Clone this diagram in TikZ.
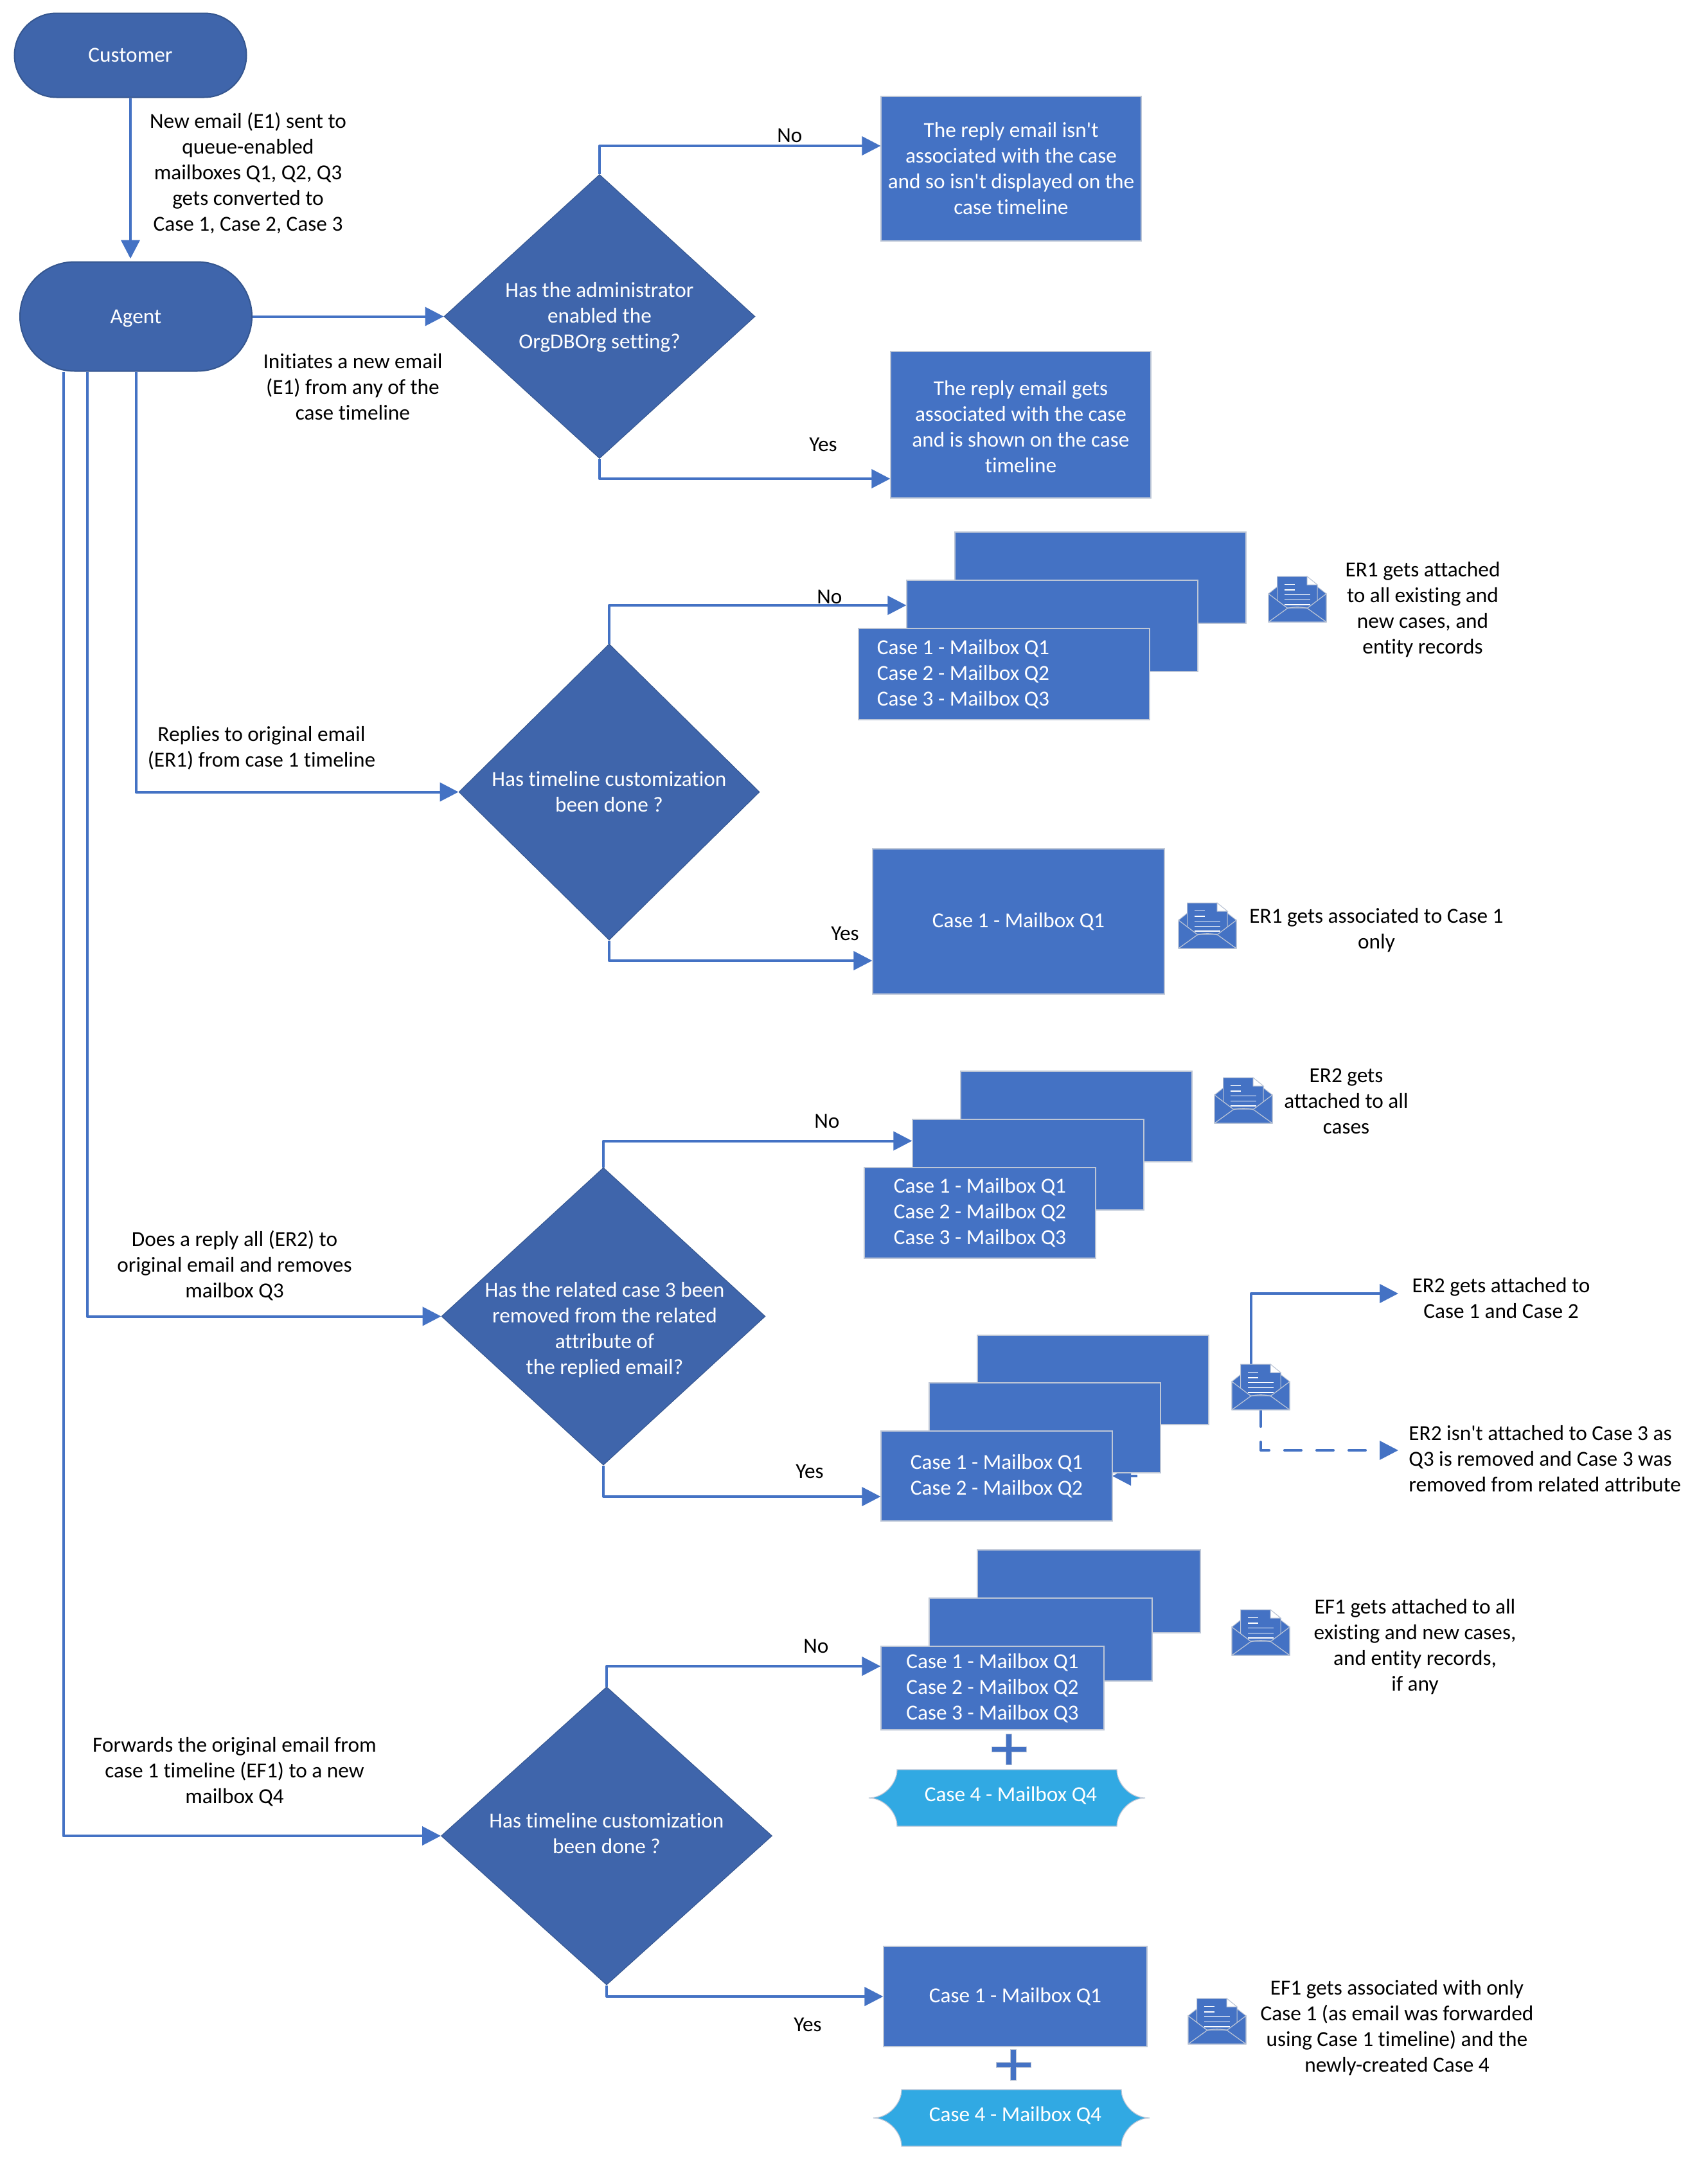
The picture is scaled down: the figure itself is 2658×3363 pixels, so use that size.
\documentclass[tikz,border=0pt]{standalone}
\usepackage{fontspec}
\setmainfont{Carlito}[Ligatures={TeXOff,NoCommon}]
\usetikzlibrary{shapes.geometric,shapes.misc,arrows.meta}
\definecolor{flowblue}{HTML}{4472C4}
\definecolor{darkblue}{HTML}{3F65AB}
\definecolor{darkedge}{HTML}{35568F}
\definecolor{paleedge}{HTML}{BDC6D6}
\definecolor{skyblue}{HTML}{31A9E3}
\tikzset{
  every node/.style={font=\fontsize{16.65}{20}\selectfont},
  terminal/.style={rounded rectangle,fill=darkblue,draw=darkedge,line width=1pt,text=white,inner sep=0pt},
  decision/.style={diamond,fill=darkblue,draw=darkedge,line width=.5pt,text=white,align=center,inner sep=0pt},
  casebox/.style={rectangle,fill=flowblue,draw=paleedge,line width=.6pt,text=white,align=center,inner sep=0pt},
  lbl/.style={align=center,inner sep=0pt,text=black,yshift=-.7pt},
  wlbl/.style={align=center,inner sep=0pt,text=white},
  conn/.style={draw=flowblue,line width=2pt,line join=round,-{Triangle[length=14.5pt,width=14.5pt]}},
  dashconn/.style={conn,line cap=round,dash pattern=on 13pt off 12pt},
  mailicon/.pic={
    \path[fill=flowblue,draw=paleedge,line width=.5pt] (0,27)--(13.7,16)--(76,16)--(90,27)--(90,71)--(0,71)--cycle;
    \path[fill=flowblue,draw=paleedge,line width=.5pt] (13.7,0)--(60,0)--(76,13)--(76,52)--(13.7,52)--cycle;
    \path[fill=white,draw=paleedge,line width=.5pt] (60,0)--(76,13)--(60,13)--cycle;
    \foreach \ya/\xb in {12.7/41,21/41,28.7/64.5,36.5/64.5,44/64.5}{
      \draw[white,line width=.6pt] (25,\ya)--(\xb,\ya);
    }
    \path[fill=flowblue,draw=paleedge,line width=.6pt] (0,27)--(29,49)--(61,49)--(90,27)--(90,71)--(0,71)--cycle;
    \draw[paleedge,line width=.6pt] (0,71)--(29,50) .. controls (38,47) and (52,47) .. (61,50)--(90,71);
  }
}
\newcommand{\shiftText}[2]{\raisebox{#1}[\height][\depth]{\begin{tabular}{@{}c@{}}#2\end{tabular}}}
\newcommand{\caseBox}[6]{%
  \pgfmathsetmacro{\boxw}{(#4-#2)*.5}%
  \pgfmathsetmacro{\boxh}{(#5-#3)*.5}%
  \node[casebox,minimum width=\boxw pt,minimum height=\boxh pt] (#1) at ({(#2+#4)/2},{(#3+#5)/2}) {#6};}
\newcommand{\blobShape}[4]{%
  \path[fill=skyblue,draw=paleedge,line width=.6pt,shift={(#2,#3)}]
    (-171,-44) -- (171,-44) .. controls (171,-22) and (192,0) .. (215,0)
    .. controls (192,0) and (171,22) .. (171,44) -- (-171,44)
    .. controls (-171,22) and (-192,0) .. (-215,0)
    .. controls (-192,0) and (-171,-22) .. (-171,-44) -- cycle;
  \node[wlbl] (#1) at (#2+6,#3-4) {#4};}
\newcommand{\plusSign}[2]{%
  \path[fill=flowblue,draw=paleedge,line width=.3pt,shift={(#1,#2)}]
    (-4.5,-24)--(4.5,-24)--(4.5,-4)--(27,-4)--(27,4)--(4.5,4)--(4.5,24)--(-4.5,24)--(-4.5,4)--(-27,4)--(-27,-4)--(-4.5,-4)--cycle;}
\begin{document}
\begin{tikzpicture}[x=.5pt,y=-.5pt]
\useasboundingbox (0,0) rectangle (2658,3363);
\fill[white] (0,0) rectangle (2658,3363);

% terminals
\node[terminal,minimum width=180.5pt,minimum height=65.5pt] (customer) at (203,86) {Customer};
\node[terminal,minimum width=180.5pt,minimum height=85pt,text height=10.5pt,text depth=0pt] (agent) at (211.5,492.5) {Agent};

% decisions
\node[decision,minimum width=242pt,minimum height=221pt] (d1) at (933,492.5) {\shiftText{-1pt}{Has the administrator\\enabled the\\OrgDBOrg setting?}};
\node[decision,minimum width=234pt,minimum height=230.5pt] (d2) at (948,1232.5) {Has timeline customization\\been done ?};
\node[decision,minimum width=252pt,minimum height=231.5pt] (d3) at (939,2048.5) {};
\node[wlbl] (d3text) at (941,2070) {Has the related case 3 been\\removed from the related\\attribute of\\the replied email?};
\node[decision,minimum width=257.5pt,minimum height=232pt] (d4) at (944,2857) {\shiftText{.5pt}{Has timeline customization\\been done ?}};

% boxes
\caseBox{b1}{1371}{150}{1776}{375}{The reply email isn't\\associated with the case\\and so isn't displayed on the\\case timeline}
\caseBox{b2}{1386}{547}{1791}{775}{\shiftText{-3.2pt}{The reply email gets\\associated with the case\\and is shown on the case\\timeline}}

\caseBox{s1c}{1486}{828}{1939}{970}{}
\caseBox{s1b}{1411}{903}{1864}{1045}{}
\caseBox{s1a}{1336}{978}{1789}{1120}{}
\node[wlbl] (s1t) at (1499,1049) {Case 1 - Mailbox Q1\\Case 2 - Mailbox Q2\\Case 3 - Mailbox Q3};

\caseBox{b3}{1358}{1321}{1812}{1547}{Case 1 - Mailbox Q1}

\caseBox{s2c}{1495}{1667}{1855}{1808}{}
\caseBox{s2b}{1420}{1742}{1780}{1883}{}
\caseBox{s2a}{1345}{1817}{1705}{1958}{Case 1 - Mailbox Q1\\Case 2 - Mailbox Q2\\Case 3 - Mailbox Q3}

\caseBox{s3c}{1521}{2078}{1881}{2217}{}
\coordinate (stub) at (1770,2297);
\coordinate (stubtip) at (1731,2297);
\draw[conn] (stub) -- (stubtip);
\caseBox{s3b}{1446}{2152}{1806}{2292}{}
\caseBox{s3a}{1371}{2227}{1731}{2367}{Case 1 - Mailbox Q1\\Case 2 - Mailbox Q2}

\caseBox{s4c}{1521}{2412}{1868}{2541}{}
\caseBox{s4b}{1446}{2487}{1793}{2616}{}
\caseBox{s4a}{1371}{2562}{1718}{2692}{Case 1 - Mailbox Q1\\Case 2 - Mailbox Q2\\Case 3 - Mailbox Q3}
\plusSign{1570}{2722}
\blobShape{q4a}{1567}{2798}{Case 4 - Mailbox Q4}

\caseBox{b5}{1375}{3029}{1785}{3185}{Case 1 - Mailbox Q1}
\plusSign{1577}{3213}
\blobShape{q4b}{1574}{3296}{Case 4 - Mailbox Q4}

% connectors
\draw[conn] (customer.south) -- ([yshift=2pt]customer.south |- agent.north);
\draw[conn] (agent.east) -- (d1.west);
\draw[conn] (agent.south) |- (d2.west);
\draw[conn] ([xshift=-38pt]agent.south) |- (d3.west);
\draw[conn] ([xshift=-56.5pt]agent.south) |- (d4.west);
\draw[conn] (d1.north) |- ([yshift=17.75pt]b1.west);
\draw[conn] (d1.south) |- ([yshift=-42pt]b2.west);
\draw[conn] (d2.north) |- ([yshift=16pt]s1b.west);
\draw[conn] (d2.south) |- ([yshift=-30.5pt]b3.west);
\draw[conn] (d3.north) |- ([yshift=18.5pt]s2b.west);
\draw[conn] (d3.south) |- ([yshift=-16pt]s3a.west);
\draw[conn] (d4.north) |- ([yshift=17pt]s4a.west);
\draw[conn] (d4.south) |- (b5.west);

% mail icons
\pic at (1974,897) {mailicon};
\pic at (1834,1405) {mailicon};
\pic at (1890,1677) {mailicon};
\coordinate (m4top) at (1947,2123);
\coordinate (m4bot) at (1962,2194);
\coordinate (e4a) at (2176,2013);
\coordinate (e4b) at (2176,2257);
\draw[conn] (m4top) |- (e4a);
\draw[dashconn] (m4bot) |- (e4b);
\pic at (1917,2123) {mailicon};
\pic at (1917,2505) {mailicon};
\pic at (1849,3110) {mailicon};

% text
\node[lbl] (t1) at (386,268) {New email (E1) sent to\\queue-enabled\\mailboxes Q1, Q2, Q3\\gets converted to\\Case 1, Case 2, Case 3};
\node[lbl] (t2) at (549,601) {Initiates a new email\\(E1) from any of the\\case timeline};
\node[lbl] (t3) at (407,1163) {Replies to original email\\(ER1) from case 1 timeline};
\node[lbl] (t4) at (365,1968) {Does a reply all (ER2) to\\original email and removes\\mailbox Q3};
\node[lbl] (t5) at (365,2756) {Forwards the original email from\\case 1 timeline (EF1) to a new\\mailbox Q4};
\node[lbl] (no1) at (1229,210) {No};
\node[lbl] (yes1) at (1281,691) {Yes};
\node[lbl] (no2) at (1291,928) {No};
\node[lbl] (yes2) at (1315,1452) {Yes};
\node[lbl] (no3) at (1287,1744) {No};
\node[lbl] (yes3) at (1260,2289) {Yes};
\node[lbl] (no4) at (1270,2560) {No};
\node[lbl] (yes4) at (1257,3149) {Yes};
\node[lbl] (r1) at (2214,947) {ER1 gets attached\\to all existing and\\new cases, and\\entity records};
\node[lbl] (r2) at (2142,1446) {ER1 gets associated to Case 1\\only};
\node[lbl] (r3) at (2095,1712) {ER2 gets\\attached to all\\cases};
\node[lbl] (r4) at (2336,2019) {ER2 gets attached to\\Case 1 and Case 2};
\node[lbl,anchor=west,align=left] (r5) at (2192,2269) {ER2 isn't attached to Case 3 as\\Q3 is removed and Case 3 was\\removed from related attribute};
\node[lbl] (r6) at (2202,2561) {EF1 gets attached to all\\existing and new cases,\\and entity records,\\if any};
\node[lbl] (r7) at (2174,3154) {EF1 gets associated with only\\Case 1 (as email was forwarded\\using Case 1 timeline) and the\\newly-created Case 4};
\end{tikzpicture}
\end{document}
